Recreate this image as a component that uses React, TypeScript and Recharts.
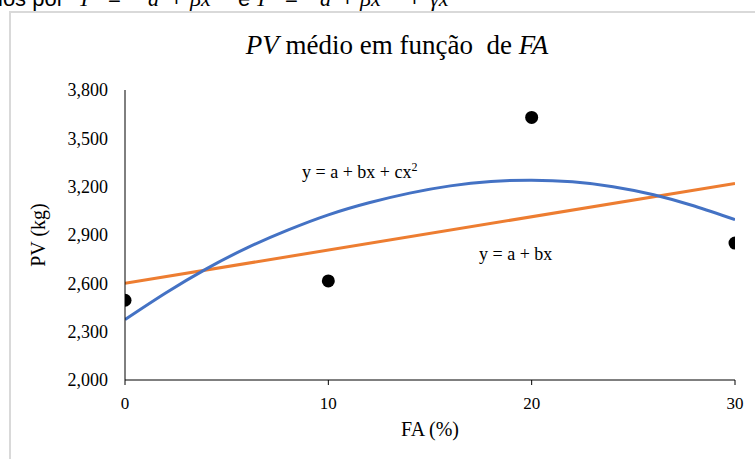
import React from "react";
import {
  ComposedChart,
  Line,
  Scatter,
  XAxis,
  YAxis,
} from "recharts";

// observed means
const faPercent = [0, 10, 20, 30];
const pvMedio = [2495, 2615, 3630, 2850];

// linear trend (y = a + bx) at its ends
const linX = [0, 30];
const linY = [2600, 3220];

// quadratic trend (y = a + bx + cx²)
const quadX = [0, 2, 4, 6, 8, 10, 12, 14, 16, 18, 20, 22, 24, 26, 28, 30];
const quadY = [2375, 2540, 2690, 2820, 2930, 3025, 3100, 3160, 3205, 3232, 3240, 3230, 3200, 3150, 3080, 2995];

const xTicks = [0, 10, 20, 30];
const yTicks = [2000, 2300, 2600, 2900, 3200, 3500, 3800];

const serif = "Liberation Serif, Tinos, DejaVu Serif, serif";
const sans = "Liberation Sans, Arimo, Arial, sans-serif";

const points = faPercent.map((x, i) => ({ x, y: pvMedio[i] }));
const linData = linX.map((x, i) => ({ x, y: linY[i] }));
const quadData = quadX.map((x, i) => ({ x, y: quadY[i] }));

const fmt = (v: number) => v.toLocaleString("en-US");

const Dot = (p: any) => <circle cx={p.cx} cy={p.cy} r={6.5} fill="#000" />;

// cropped caption line from the page above the chart
const capSegs: [string, number, boolean][] = [
  ["ios por", -2, false],
  ["Y", 78, true],
  ["=", 108, false],
  ["a", 148, true],
  ["+", 170, false],
  ["βx", 190, true],
  ["e", 238, false],
  ["Y", 255, true],
  ["=", 285, false],
  ["a", 320, true],
  ["+", 341, false],
  ["βx", 360, true],
  ["+", 408, false],
  ["γx²", 430, true],
];

export default function App() {
  return (
    <div
      style={{
        position: "fixed",
        left: 0,
        top: 0,
        width: 755,
        height: 459,
        overflow: "hidden",
        background: "#fff",
      }}
    >
      {capSegs.map(([t, left, it], i) => (
        <span
          key={i}
          style={{
            position: "absolute",
            left,
            top: -12.5,
            fontSize: 22,
            lineHeight: "22px",
            fontFamily: it ? serif : sans,
            fontStyle: it ? "italic" : "normal",
            color: "#000",
            whiteSpace: "nowrap",
          }}
        >
          {t}
        </span>
      ))}

      <div
        style={{
          position: "absolute",
          left: 9,
          top: 11,
          width: 770,
          height: 470,
          border: "2px solid #d9d9d9",
          boxSizing: "border-box",
        }}
      />

      <div
        style={{
          position: "absolute",
          left: 97,
          width: 600,
          top: 30,
          textAlign: "center",
          fontFamily: serif,
          fontSize: 27,
          lineHeight: "30px",
          color: "#000",
          whiteSpace: "pre",
        }}
      >
        <i>PV</i> médio em função  de <i>FA</i>
      </div>

      <div style={{ position: "absolute", left: 0, top: 0 }}>
        <ComposedChart
          width={755}
          height={459}
          margin={{ top: 90, right: 20, bottom: 19, left: 65 }}
          style={{ fontFamily: serif }}
        >
          <XAxis
            dataKey="x"
            type="number"
            domain={[0, 30]}
            ticks={xTicks}
            allowDataOverflow
            height={60}
            stroke="#000"
            tickSize={5}
            tickMargin={12}
            tick={{ fill: "#000", fontSize: 17, fontFamily: serif }}
            label={{
              value: "FA (%)",
              position: "center",
              dy: 19,
              fill: "#000",
              fontSize: 20,
              fontFamily: serif,
            }}
          />
          <YAxis
            dataKey="y"
            type="number"
            domain={[2000, 3800]}
            ticks={yTicks}
            allowDataOverflow
            width={60}
            stroke="#000"
            tickLine={false}
            tickSize={8}
            tickMargin={9}
            tickFormatter={fmt}
            tick={{ fill: "#000", fontSize: 18, fontFamily: serif }}
            label={{
              value: "PV (kg)",
              angle: -90,
              position: "center",
              dx: -57,
              fill: "#000",
              fontSize: 20,
              fontFamily: serif,
            }}
          />
          <Line
            data={linData}
            dataKey="y"
            type="linear"
            stroke="#ED7D31"
            strokeWidth={3}
            dot={false}
            activeDot={false}
            isAnimationActive={false}
          />
          <Line
            data={quadData}
            dataKey="y"
            type="natural"
            stroke="#4472C4"
            strokeWidth={3}
            dot={false}
            activeDot={false}
            isAnimationActive={false}
          />
          <Scatter
            data={points}
            dataKey="y"
            fill="#000"
            shape={Dot}
            isAnimationActive={false}
          />
        </ComposedChart>
      </div>

      <div
        style={{
          position: "absolute",
          left: 302,
          top: 162,
          fontFamily: serif,
          fontSize: 18,
          lineHeight: "20px",
          color: "#000",
          whiteSpace: "nowrap",
        }}
      >
        y = a + bx + cx
        <sup style={{ fontSize: 12, lineHeight: 0, verticalAlign: "7px" }}>2</sup>
      </div>
      <div
        style={{
          position: "absolute",
          left: 479,
          top: 244,
          fontFamily: serif,
          fontSize: 18,
          lineHeight: "20px",
          color: "#000",
          whiteSpace: "nowrap",
        }}
      >
        y = a + bx
      </div>
    </div>
  );
}
